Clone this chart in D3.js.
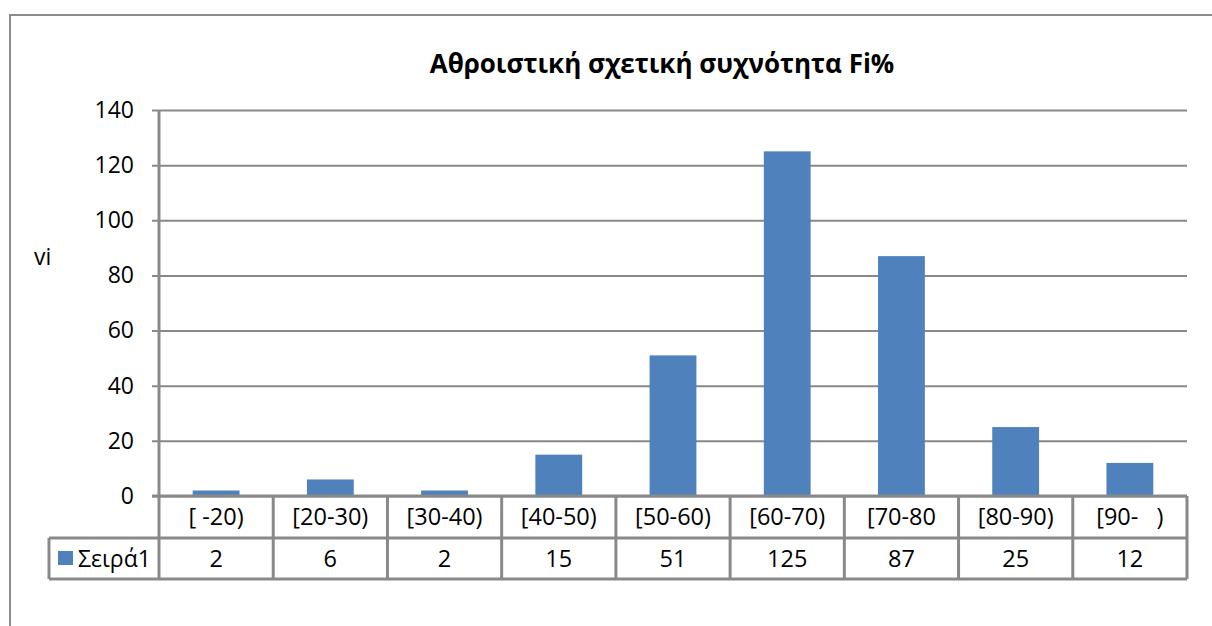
<!DOCTYPE html>
<html lang="el">
<head>
  <meta charset="UTF-8" />
  <title>Αθροιστική σχετική συχνότητα Fi%</title>
  <style>
    body { margin: 0; background: #fff; }
    svg text { font-family: "Open Sans", "Noto Sans", sans-serif; fill: #000; white-space: pre; }
  </style>
  <script src="https://d3js.org/d3.v7.min.js"></script>
</head>
<body>
  <script>
    // data
    const categories = ["[ -20)", "[20-30)", "[30-40)", "[40-50)", "[50-60)", "[60-70)", "[70-80", "[80-90)", "[90-   )"];
    const values = [2, 6, 2, 15, 51, 125, 87, 25, 12];
    const yTicks = [0, 20, 40, 60, 80, 100, 120, 140];
    const seriesName = "Σειρά1";

    const W = 1212, H = 626;
    const plot = { left: 159, right: 1187, top: 110, bottom: 496 };
    const row1 = 538, row2 = 579, legendLeft = 49;
    const gray = "#898989";
    const barColor = "#4f81bd";

    const svg = d3.select("body").append("svg")
      .attr("width", W)
      .attr("height", H);

    // outer chart border (runs off the page to the right and below)
    svg.append("rect")
      .attr("x", 10).attr("y", 15)
      .attr("width", W + 50).attr("height", H + 50)
      .attr("fill", "#fff")
      .attr("stroke", "#8c8c8c")
      .attr("stroke-width", 2);

    const x = d3.scaleBand()
      .domain(categories)
      .range([plot.left, plot.right])
      .padding(0);

    const y = d3.scaleLinear()
      .domain([0, 140])
      .range([plot.bottom, plot.top]);

    // gridlines + ticks + labels
    const yAxis = d3.axisLeft(y)
      .tickValues(yTicks)
      .tickSize(-(plot.right - plot.left) - 7)
      .tickFormat(d3.format("d"));

    const gy = svg.append("g")
      .attr("transform", "translate(" + plot.left + ",0)")
      .call(yAxis);
    gy.select(".domain").remove();
    gy.selectAll(".tick line")
      .attr("x1", -7)
      .attr("x2", plot.right - plot.left)
      .attr("stroke", gray)
      .attr("stroke-width", 2);
    gy.selectAll(".tick text")
      .attr("x", -25)
      .attr("font-size", 23)
      .style("font-family", "'Open Sans', sans-serif");

    // bars
    const barW = x.bandwidth() * 0.41;
    svg.selectAll("rect.bar")
      .data(values)
      .enter()
      .append("rect")
      .attr("class", "bar")
      .attr("x", (d, i) => x(categories[i]) + (x.bandwidth() - barW) / 2)
      .attr("y", d => y(d))
      .attr("width", barW)
      .attr("height", d => y(0) - y(d))
      .attr("fill", barColor);

    // y axis line, through the data table
    svg.append("line")
      .attr("x1", plot.left).attr("x2", plot.left)
      .attr("y1", plot.top).attr("y2", row2)
      .attr("stroke", gray).attr("stroke-width", 3);

    // data table
    const table = svg.append("g");
    table.append("line")
      .attr("x1", plot.left - 7).attr("x2", plot.right)
      .attr("y1", plot.bottom).attr("y2", plot.bottom)
      .attr("stroke", gray).attr("stroke-width", 3);
    [row1, row2].forEach(yy => {
      table.append("line")
        .attr("x1", legendLeft).attr("x2", plot.right)
        .attr("y1", yy).attr("y2", yy)
        .attr("stroke", gray).attr("stroke-width", 3);
    });
    table.append("line")
      .attr("x1", legendLeft).attr("x2", legendLeft)
      .attr("y1", row1).attr("y2", row2)
      .attr("stroke", gray).attr("stroke-width", 3);
    table.selectAll("line.sep")
      .data(categories)
      .enter()
      .append("line")
      .attr("class", "sep")
      .attr("x1", d => x(d) + x.bandwidth())
      .attr("x2", d => x(d) + x.bandwidth())
      .attr("y1", plot.bottom).attr("y2", row2)
      .attr("stroke", gray).attr("stroke-width", 3);

    table.selectAll("text.cat")
      .data(categories)
      .enter()
      .append("text")
      .attr("class", "cat")
      .attr("x", d => x(d) + x.bandwidth() / 2)
      .attr("y", (plot.bottom + row1) / 2)
      .attr("dy", "0.35em")
      .attr("text-anchor", "middle")
      .attr("font-size", 23.5)
      .text(d => d);

    table.selectAll("text.val")
      .data(values)
      .enter()
      .append("text")
      .attr("class", "val")
      .attr("x", (d, i) => x(categories[i]) + x.bandwidth() / 2)
      .attr("y", (row1 + row2) / 2)
      .attr("dy", "0.35em")
      .attr("text-anchor", "middle")
      .attr("font-size", 23.5)
      .text(d => d);

    // legend key in the table
    table.append("rect")
      .attr("x", 58).attr("y", 551)
      .attr("width", 15).attr("height", 14)
      .attr("fill", barColor);
    table.append("text")
      .attr("x", 78)
      .attr("y", (row1 + row2) / 2)
      .attr("dy", "0.35em")
      .attr("font-size", 23)
      .text(seriesName);

    // axis title
    svg.append("text")
      .attr("x", 34)
      .attr("y", 257)
      .attr("dy", "0.35em")
      .attr("font-size", 23)
      .text("vi");

    // chart title
    svg.append("text")
      .attr("x", 662)
      .attr("y", 73)
      .attr("text-anchor", "middle")
      .attr("font-size", 26)
      .attr("font-weight", "bold")
      .text("Αθροιστική σχετική συχνότητα Fi%");
  </script>
</body>
</html>
